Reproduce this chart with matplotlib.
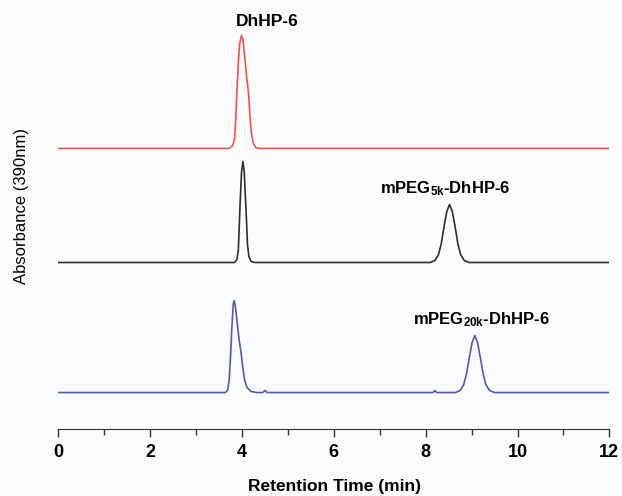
# coding:utf-8
# HPLC chromatograms of DhHP-6 and its mPEG conjugates
from matplotlib import pyplot as plt

plt.rcParams['font.family'] = ['Liberation Sans', 'DejaVu Sans']
plt.rcParams['mathtext.fontset'] = 'custom'
plt.rcParams['mathtext.rm'] = 'Liberation Sans:bold'
plt.rcParams['mathtext.default'] = 'rm'

# retention time (min) / absorbance (arb.)
t_free = [0, 3.72, 3.80, 3.84, 3.87, 3.89, 3.92, 3.95, 3.99, 4.02, 4.06, 4.10,
          4.14, 4.17, 4.20, 4.24, 4.30, 4.38, 12]
a_free = [0, 0, 3, 10, 35, 57, 85, 105, 113, 109, 92, 72,
          57, 35, 17, 6, 1, 0, 0]

t_5k = [0, 3.84, 3.89, 3.92, 3.94, 3.96, 3.99, 4.02, 4.05, 4.08, 4.10, 4.12, 4.15, 4.20, 4.28,
        8.10, 8.20, 8.28, 8.34, 8.40, 8.46, 8.52, 8.58, 8.64, 8.70, 8.76, 8.84, 8.95, 12]
a_5k = [0, 0, 3, 12, 35, 60, 90, 101, 90, 60, 40, 18, 6, 1, 0,
        0, 2, 8, 19, 36, 51, 58, 51, 36, 19, 8, 2, 0, 0]

t_20k = [0, 3.64, 3.69, 3.72, 3.75, 3.78, 3.81, 3.83, 3.86, 3.90, 3.94, 3.98, 4.02, 4.06,
         4.11, 4.20, 4.32, 4.45, 4.50, 4.55, 8.16, 8.20, 8.24,
         8.65, 8.75, 8.83, 8.89, 8.95, 9.01, 9.07, 9.13, 9.19, 9.25, 9.31, 9.39, 9.50, 12]
a_20k = [0, 0, 3, 12, 35, 65, 88, 92, 85, 68, 52, 40, 24, 12,
         5, 1, 0, 0, 2, 0, 0, 2, 0,
         0, 2, 8, 19, 35, 50, 57, 50, 35, 19, 8, 2, 0, 0]

offsets = [280.5, 166.5, 36.5]
colors = ['#e8574b', '#2e2e2e', '#5558b2']

fig = plt.figure(figsize=(6.22, 4.96), dpi=100, facecolor='#fafbfd')
ax = fig.add_axes([0.0937, 0.135, 0.886, 0.845])
ax.set_facecolor('#fafbfd')

for t, a, off, c in zip([t_free, t_5k, t_20k], [a_free, a_5k, a_20k], offsets, colors):
    ax.plot(t, [v + off for v in a], color=c, lw=1.2)

ax.set_xlim(0, 12)
ax.set_ylim(0, 419)
for s in ['left', 'right', 'top']:
    ax.spines[s].set_visible(False)
ax.spines['bottom'].set_color('#333333')
ax.set_yticks([])
ax.set_xticks(range(0, 13, 2))
ax.set_xticks(range(1, 12, 2), minor=True)
ax.tick_params(axis='x', which='major', length=6, width=1, color='#333333', pad=5,
               labelsize=13)
ax.tick_params(axis='x', which='minor', length=4, width=1, color='#333333')
for lab in ax.get_xticklabels():
    lab.set_fontweight('bold')

ax.text(3.87, 407, 'DhHP-6', fontsize=12.5, fontweight='bold', va='center', ha='left')
ax.text(7.0, 240, r'mPEG$_{\mathrm{5k}}$-DhHP-6', fontsize=12, fontweight='bold',
        va='center', ha='left')
ax.text(7.73, 109, r'mPEG$_{\mathrm{20k}}$-DhHP-6', fontsize=12, fontweight='bold',
        va='center', ha='left')

fig.text(335 / 622, 1 - 486 / 496, 'Retention Time (min)', fontsize=12.5,
         fontweight='bold', ha='center', va='center')
fig.text(22 / 622, 1 - 206 / 496, 'Absorbance (390nm)', fontsize=12,
         rotation=90, ha='center', va='center')

plt.savefig('out.png', dpi=100, facecolor=fig.get_facecolor())
